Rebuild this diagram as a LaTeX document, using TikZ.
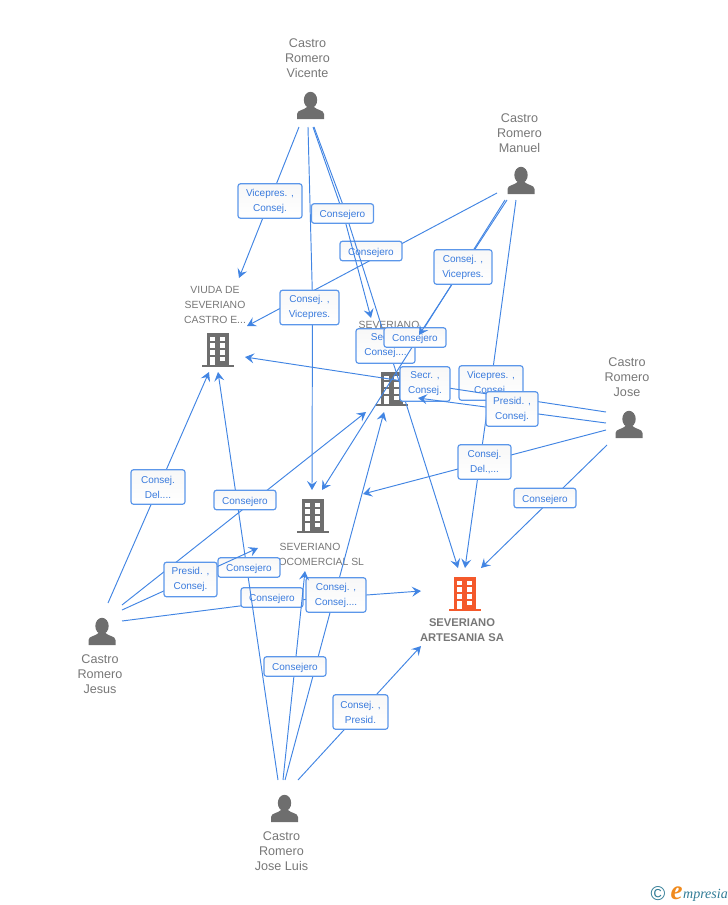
\documentclass[tikz,border=0pt]{standalone}
\usepackage{fontspec}
\setmainfont{Liberation Sans}
\newfontfamily\logofont{Liberation Serif}
\usetikzlibrary{arrows.meta}
\definecolor{linkblue}{HTML}{4285E3}
\definecolor{boxedge}{HTML}{5C97EA}
\definecolor{boxtext}{HTML}{3A7BDD}
\definecolor{icongrey}{HTML}{6E6E6E}
\definecolor{nametext}{HTML}{777777}
\definecolor{iconorange}{HTML}{F4592B}
\definecolor{logoteal}{HTML}{2F7B95}
\definecolor{logoorange}{HTML}{F08A1D}
\tikzset{
  link/.style={draw=linkblue,line width=0.95pt,line join=round,-{Stealth[length=9pt,width=10pt,inset=3.5pt]}},
  lab/.style={draw=boxedge,line width=1.2pt,rounded corners=2.5pt,top color=black!3,bottom color=white,text=boxtext,align=center,inner sep=0pt,font=\fontsize{10}{15}\selectfont,execute at begin node={\rule{0pt}{10.2pt}}},
  labone/.style={lab,minimum width=62pt,minimum height=19.5pt},
  labtwo/.style={lab,minimum height=34.5pt},
  whoname/.style={text=nametext,align=center,inner sep=0pt,font=\fontsize{12.6}{15}\selectfont},
  coname/.style={text=nametext,align=center,inner sep=0pt,font=\fontsize{10.4}{15}\selectfont},
  person/.pic={
    \fill[icongrey] (0,-19) ellipse (6.7 and 8.2);
    \fill[icongrey] (-13.5,0) -- (-13.5,-5) .. controls (-13.5,-9) and (-6,-9) .. (-3.5,-12) -- (3.5,-12) .. controls (6,-9) and (13.5,-9) .. (13.5,-5) -- (13.5,0) -- cycle;
  },
  pics/tower/.style={code={
    \fill[#1] (-11,-34) rectangle (11,-2);
    \fill[#1] (-16,-2.2) rectangle (16,0);
    \foreach \wy in {-30.5,-23.8,-17.1} {
      \fill[white] (-8,\wy) rectangle (-3,\wy+4.6);
      \fill[white] (2,\wy) rectangle (7,\wy+4.6);
    }
    \fill[white] (-8,-10.4) rectangle (-3,-2.2);
    \fill[white] (2,-10.4) rectangle (7,-5.6);
  }},
}
\begin{document}
\begin{tikzpicture}[x=1pt,y=-1pt]
\useasboundingbox (0,0) rectangle (728,905);

% icons
\pic at (218,367) {tower=icongrey};
\pic at (392,406) {tower=icongrey};
\pic at (313,533) {tower=icongrey};
\pic at (465,611) {tower=iconorange};
\pic at (310.5,119) {person};
\pic at (521,194) {person};
\pic at (629,438) {person};
\pic at (102,645) {person};
\pic at (284.5,822) {person};

% names
\node[whoname] (nvicente) at (307.5,58) {Castro\\Romero\\Vicente};
\node[whoname] (nmanuel) at (519.5,133) {Castro\\Romero\\Manuel};
\node[whoname] (njose) at (627,377) {Castro\\Romero\\Jose};
\node[whoname] (njesus) at (100,674) {Castro\\Romero\\Jesus};
\node[whoname] (njoseluis) at (281.5,851) {Castro\\Romero\\Jose Luis};
\node[coname] (nviuda) at (215,305) {VIUDA DE\\SEVERIANO\\CASTRO E...};
\node[coname,anchor=north] (nsev) at (389,321.5) {SEVERIANO};
\node[coname] (nagro) at (310,554) {SEVERIANO\\AGROCOMERCIAL SL};
\node[coname,font=\fontsize{11.2}{15}\selectfont\bfseries] (nart) at (462,630) {SEVERIANO\\ARTESANIA SA};

% connector ends
\coordinate (vic1) at (299,127);
\coordinate (vic2) at (308,127);
\coordinate (vic3) at (313,127);
\coordinate (vic4) at (314,127);
\coordinate (man1) at (516,200);
\coordinate (man2) at (497,193);
\coordinate (man3) at (507,200);
\coordinate (man4) at (505,200);
\coordinate (jos1) at (606,412);
\coordinate (jos2) at (606,423);
\coordinate (jos3) at (606,430);
\coordinate (jos4) at (607,445);
\coordinate (jes1) at (108,603);
\coordinate (jes2) at (122,605);
\coordinate (jes3) at (122,610);
\coordinate (jes4) at (122,621);
\coordinate (jl1) at (278,780);
\coordinate (jl2) at (285,780);
\coordinate (jl3) at (283,780);
\coordinate (jl4) at (298,780);
\coordinate (viudaA) at (239,278);
\coordinate (viudaB) at (247,326);
\coordinate (viudaC) at (245,357);
\coordinate (viudaD) at (209,372);
\coordinate (viudaE) at (218,372);
\coordinate (sevA) at (371,318);
\coordinate (sevB) at (419,335);
\coordinate (sevC) at (418,398);
\coordinate (sevD) at (366,412);
\coordinate (sevE) at (384,412);
\coordinate (agroA) at (312,490);
\coordinate (agroB) at (322,490);
\coordinate (agroC) at (363,494);
\coordinate (agroD) at (258,548);
\coordinate (agroE) at (305,571);
\coordinate (artA) at (465,568);
\coordinate (artB) at (458,568);
\coordinate (artC) at (481,568);
\coordinate (artD) at (421,591);
\coordinate (artE) at (421,646);

% Manuel to Artesania
\draw[link] (man1) -- (491,383) -- (artA);
\node[labtwo,minimum width=64pt] (b1) at (491,383) {Vicepres. ,\\Consej.};
% Manuel to Viuda
\draw[link] (man2) -- (viudaB);
\node[labone] (b2) at (371,251) {Consejero};
% Vicente to Viuda
\draw[link] (vic1) -- (viudaA);
\node[labtwo,minimum width=64pt] (b3) at (270,201) {Vicepres. ,\\Consej.};
% Vicente to Agro
\draw[link] (vic2) -- (312.5,300) -- (agroA);
\node[labtwo,minimum width=59pt] (b4) at (309.5,307.5) {Consej. ,\\Vicepres.};
% Vicente to Artesania
\draw[link] (vic4) -- (343,205) -- (386,340) -- (artB);
\node[labtwo,minimum width=59pt] (b5) at (385.5,346) {Secr. ,\\Consej....};
% Vicente to Severiano
\draw[link] (vic3) -- (343,213) -- (sevA);
\node[labone] (b6) at (342.5,213.5) {Consejero};
% Manuel to Agro
\draw[link] (man4) -- (agroB);
\node[labone] (b7) at (415,337.5) {Consejero};
% Manuel to Severiano
\draw[link] (man3) -- (sevB);
\node[labtwo,minimum width=58pt] (b8) at (463,267) {Consej. ,\\Vicepres.};
% Jose to Viuda
\draw[link] (jos1) -- (viudaC);
\node[labtwo,minimum width=50pt] (b9) at (425,384) {Secr. ,\\Consej.};
% Jose to Severiano
\draw[link] (jos2) -- (sevC);
\node[labtwo,minimum width=52pt] (b10) at (512,409) {Presid. ,\\Consej.};
% Jose to Agro
\draw[link] (jos3) -- (agroC);
\node[labtwo,minimum width=53pt] (b11) at (484.5,462) {Consej.\\Del.,...};
% Jose to Artesania
\draw[link] (jos4) -- (artC);
\node[labone] (b12) at (545,498) {Consejero};
% Jesus to Viuda
\draw[link] (jes1) -- (viudaD);
\node[labtwo,minimum width=54pt] (b13) at (158,487) {Consej.\\Del....};
% Jesus to Artesania
\draw[link] (jes4) -- (271,602) -- (artD);
\node[labone] (b14) at (272,597.5) {Consejero};
% Jose Luis to Viuda
\draw[link] (jl1) -- (viudaE);
\node[labone] (b15) at (249,567.5) {Consejero};
% Jesus to Severiano
\draw[link] (jes2) -- (sevD);
\node[labone] (b16) at (245,500) {Consejero};
% Jesus to Agro
\draw[link] (jes3) -- (agroD);
\node[labtwo,minimum width=53pt] (b17) at (190.5,579.5) {Presid. ,\\Consej.};
% Jose Luis to Severiano
\draw[link] (jl2) -- (sevE);
\node[labtwo,minimum width=60pt] (b18) at (336,595) {Consej. ,\\Consej....};
% Jose Luis to Agro
\draw[link] (jl3) -- (agroE);
\node[labone] (b19) at (295,666.5) {Consejero};
% Jose Luis to Artesania
\draw[link] (jl4) -- (artE);
\node[labtwo,minimum width=55pt] (b20) at (360.5,712) {Consej. ,\\Presid.};

% logo
\node[text=logoteal,inner sep=0pt,font=\fontsize{20}{20}\selectfont] (logoc) at (658,893.5) {©};
\node[text=logoorange,inner sep=0pt,anchor=base west,font=\logofont\itshape\bfseries\fontsize{27}{27}\selectfont] (logoe) at (670.5,899) {e};
\node[text=logoteal,inner sep=0pt,anchor=base west,font=\logofont\itshape\fontsize{14}{14}\selectfont] (logot) at (683,898) {mpresia};
\end{tikzpicture}
\end{document}
